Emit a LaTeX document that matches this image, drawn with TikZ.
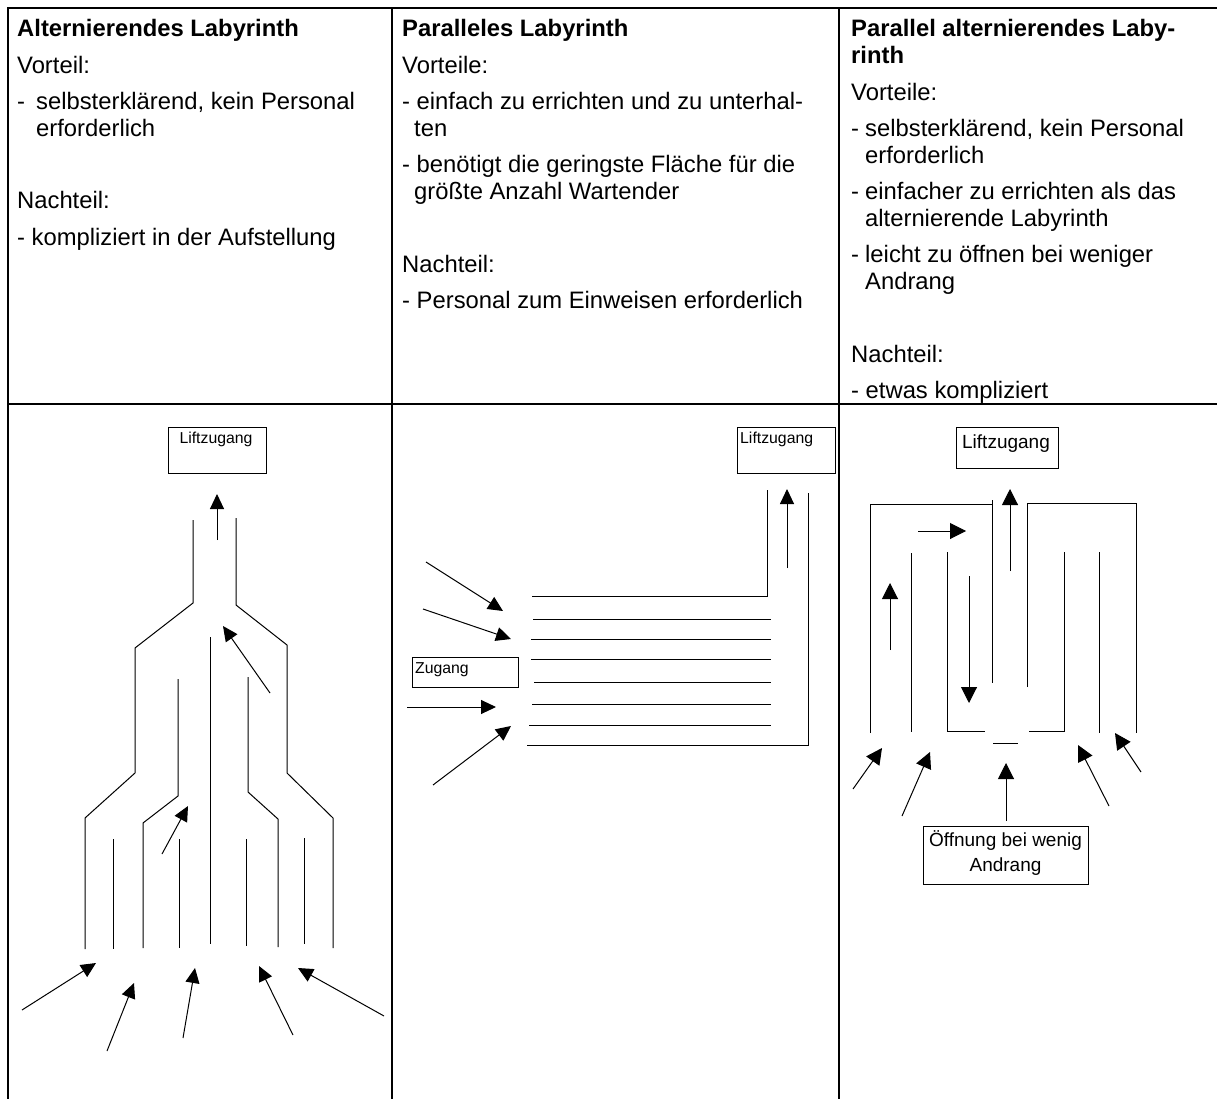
\documentclass[tikz,border=0pt]{standalone}
\usepackage{fontspec}
\setmainfont{Liberation Sans}
\usetikzlibrary{arrows.meta,calc}

\tikzset{
  frame/.style={line width=2.2pt},
  wall/.style={line width=1pt},
  arr/.style={line width=1pt,-{Triangle[length=15pt,width=14pt]}},
  arrbig/.style={line width=1pt,-{Triangle[length=16pt,width=16pt]}},
  box/.style={draw,line width=1pt,inner sep=0pt,anchor=north west},
  txt/.style={anchor=base west,inner sep=0pt,font=\fontsize{23.8}{28}\selectfont},
  head/.style={txt,font=\fontsize{23.8}{28}\selectfont\bfseries},
  small/.style={anchor=base west,inner sep=0pt,font=\fontsize{15.8}{19}\selectfont},
  mid/.style={anchor=base,inner sep=0pt,font=\fontsize{19}{23}\selectfont}
}

\begin{document}
\begin{tikzpicture}[x=1pt,y=-1pt]
\useasboundingbox (0,0) rectangle (1217,1099);

% table grid
\draw[frame] (1217,8) -- (8,8) -- (8,1099);
\draw[frame] (8,404) -- (1217,404);
\draw[frame] (392,8) -- (392,1099);
\draw[frame] (839,8) -- (839,1099);

% ---- column 1: text
\node[head] (t1) at (17,37) {Alternierendes Labyrinth};
\node[txt] (t1a) at (17,73.3) {Vorteil:};
\node[txt] (t1b) at (17,109.6) {-};
\node[txt] (t1c) at (36,109.6) {selbsterklärend, kein Personal};
\node[txt] (t1d) at (36,136.4) {erforderlich};
\node[txt] (t1e) at (17,209) {Nachteil:};
\node[txt] (t1f) at (17,245.3) {- kompliziert in der Aufstellung};

% ---- column 2: text
\node[head] (t2) at (402,37) {Paralleles Labyrinth};
\node[txt] (t2a) at (402,73.3) {Vorteile:};
\node[txt] (t2b) at (402,109.6) {- einfach zu errichten und zu unterhal-};
\node[txt] (t2c) at (414,136.4) {ten};
\node[txt] (t2d) at (402,172.7) {- benötigt die geringste Fläche für die};
\node[txt] (t2e) at (414,199.5) {größte Anzahl Wartender};
\node[txt] (t2f) at (402,272.1) {Nachteil:};
\node[txt] (t2g) at (402,308.4) {- Personal zum Einweisen erforderlich};

% ---- column 3: text
\node[head] (t3) at (851,37) {Parallel alternierendes Laby-};
\node[head] (t3a) at (851,63.8) {rinth};
\node[txt] (t3b) at (851,100.1) {Vorteile:};
\node[txt] (t3c) at (851,136.4) {-};
\node[txt] (t3d) at (865,136.4) {selbsterklärend, kein Personal};
\node[txt] (t3e) at (865,163.2) {erforderlich};
\node[txt] (t3f) at (851,199.5) {-};
\node[txt] (t3g) at (865,199.5) {einfacher zu errichten als das};
\node[txt] (t3h) at (865,226.3) {alternierende Labyrinth};
\node[txt] (t3i) at (851,262.6) {-};
\node[txt] (t3j) at (865,262.6) {leicht zu öffnen bei weniger};
\node[txt] (t3k) at (865,289.4) {Andrang};
\node[txt] (t3l) at (851,362) {Nachteil:};
\node[txt] (t3m) at (851,398) {- etwas kompliziert};

% ---- column 1: alternating labyrinth
\node[box,minimum width=98pt,minimum height=46pt] (lift1) at (168,427) {};
\node[small,anchor=base] (lift1t) at (216,443) {Liftzugang};

\draw[wall] (193,520) -- (193,603) -- (135,648) -- (135,773) -- (85,818) -- (85,949);
\draw[wall] (236,518) -- (236,605) -- (287,645) -- (287,773) -- (333,818) -- (333,948);
\draw[wall] (178,679) -- (178,796) -- (143,823) -- (143,948);
\draw[wall] (210,637) -- (210,944);
\draw[wall] (248,677) -- (248,792) -- (278,819) -- (278,947);
\draw[wall] (113,839) -- (113,949);
\draw[wall] (179,839) -- (179,948);
\draw[wall] (246,839) -- (246,946);
\draw[wall] (304,838) -- (304,944);

\draw[arr] (217,540) -- (217,494);
\draw[arr] (270,693) -- (223,626);
\draw[arr] (162,854) -- (188,806);
\draw[arr] (22,1010) -- (96,963);
\draw[arr] (107,1051) -- (134,983);
\draw[arr] (183,1038) -- (195,968);
\draw[arr] (293,1035) -- (259,966);
\draw[arr] (384,1016) -- (298,968);

% ---- column 2: parallel labyrinth
\node[box,minimum width=98pt,minimum height=46pt] (lift2) at (737,427) {};
\node[small] (lift2t) at (740,443) {Liftzugang};
\node[box,minimum width=106pt,minimum height=30pt] (zug) at (412,657) {};
\node[small] (zugt) at (415,673) {Zugang};

\draw[wall] (532,596) -- (767,596) -- (767,490);
\draw[wall] (533,619) -- (771,619);
\draw[wall] (531,639) -- (771,639);
\draw[wall] (531,659) -- (771,659);
\draw[wall] (534,682) -- (771,682);
\draw[wall] (532,704) -- (771,704);
\draw[wall] (529,725) -- (771,725);
\draw[wall] (527,745) -- (808,745) -- (808,493);

\draw[arr] (787,568) -- (787,489);
\draw[arr] (426,562) -- (503,611);
\draw[arr] (423,609) -- (511,639);
\draw[arr] (407,707) -- (496,707);
\draw[arr] (433,785) -- (511,726);

% ---- column 3: parallel alternating labyrinth
\node[box,minimum width=102pt,minimum height=41pt] (lift3) at (956,427) {};
\node[mid] (lift3t) at (1006,448) {Liftzugang};

\draw[wall] (870,733) -- (870,504) -- (992,504);
\draw[wall] (992,500) -- (992,683);
\draw[wall] (1027,687) -- (1027,503) -- (1136,503) -- (1136,733);
\draw[wall] (911,553) -- (911,732);
\draw[wall] (947,552) -- (947,731) -- (985,731);
\draw[wall] (1029,731) -- (1064,731) -- (1064,552);
\draw[wall] (1099,552) -- (1099,733);
\draw[wall] (993,743) -- (1018,743);

\draw[arrbig] (890,650) -- (890,583);
\draw[arrbig] (918,531) -- (966,531);
\draw[arrbig] (969,576) -- (969,703);
\draw[arrbig] (1010,571) -- (1010,489);
\draw[arrbig] (853,789) -- (882,748);
\draw[arrbig] (902,816) -- (930,752);
\draw[arrbig] (1006,821) -- (1006,763);
\draw[arrbig] (1109,806) -- (1078,745);
\draw[arrbig] (1141,772) -- (1115,733);

\node[box,minimum width=165pt,minimum height=58pt] (open) at (923,826) {};
\node[mid] (opent) at (1005.5,846) {Öffnung bei wenig};
\node[mid] (opent2) at (1005.5,871) {Andrang};
\end{tikzpicture}
\end{document}
